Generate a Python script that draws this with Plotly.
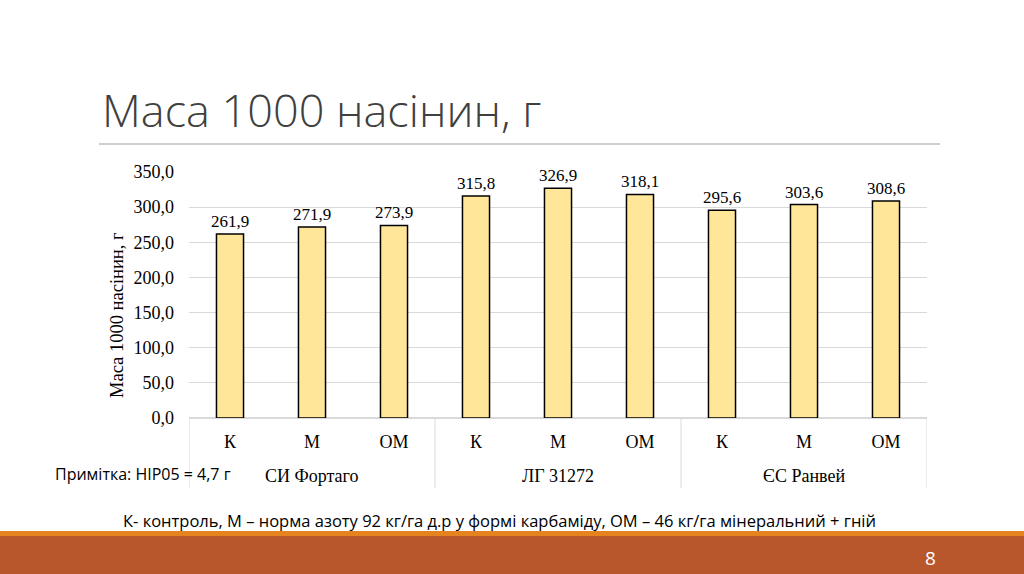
import plotly.graph_objects as go

# data
treatments = ["К", "М", "ОМ", "К", "М", "ОМ", "К", "М", "ОМ"]
varieties = ["СИ Фортаго", "ЛГ 31272", "ЄС Ранвей"]
seed_mass = [261.9, 271.9, 273.9, 315.8, 326.9, 318.1, 295.6, 303.6, 308.6]
y_ticks = [0, 50, 100, 150, 200, 250, 300, 350]

# plot area in pixels
PX0, PX1, PY0, PY1 = 189, 927, 172, 418


def px(x):
    return (x - PX0) / (PX1 - PX0)


def py(y):
    return (PY1 - y) / (PY1 - PY0)


serif = "Liberation Serif, Times New Roman, serif"
sans = "Open Sans, Noto Sans, sans-serif"

positions = list(range(len(seed_mass)))

fig = go.Figure()
fig.add_trace(go.Bar(
    x=positions, y=seed_mass,
    width=0.33,
    marker=dict(color="#FFE699", line=dict(color="#000000", width=1.5)),
    texttemplate="%{y:.1f}", textposition="outside", constraintext="none",
    textfont=dict(family=serif, size=17, color="#000000"),
    cliponaxis=False, showlegend=False, hoverinfo="skip",
))

# group labels under the category axis
annotations = []
for i, name in enumerate(varieties):
    annotations.append(dict(
        x=i * 3 + 1, xref="x", y=py(476), yref="paper", yanchor="middle",
        text=name, showarrow=False, font=dict(family=serif, size=18, color="#000000"),
    ))

# group dividers
shapes = []
for b in [-0.5, 2.5, 5.5, 8.5]:
    shapes.append(dict(type="line", xref="x", yref="paper", x0=b, x1=b,
                       y0=py(418), y1=py(488), line=dict(color="#D9D9D9", width=1)))

# slide decorations
shapes += [
    dict(type="line", xref="paper", yref="paper", x0=px(99), x1=px(940),
         y0=py(144), y1=py(144), line=dict(color="#BFBFBF", width=1.5)),
    dict(type="rect", xref="paper", yref="paper", x0=px(0), x1=px(1024),
         y0=py(531), y1=py(536), line=dict(width=0), fillcolor="#E5831F"),
    dict(type="rect", xref="paper", yref="paper", x0=px(0), x1=px(1024),
         y0=py(536), y1=py(574), line=dict(width=0), fillcolor="#B9572C"),
]

annotations += [
    dict(x=px(100), y=py(109), xref="paper", yref="paper", xanchor="left", yanchor="middle",
         text="Маса 1000 насінин, г", showarrow=False,
         font=dict(family=sans, size=45, color="#404040", weight=300)),
    # y axis title, placed a bit below the plot centre as in the source chart
    dict(x=px(117), y=py(315), xref="paper", yref="paper", xanchor="center", yanchor="middle",
         text="Маса 1000 насінин, г", showarrow=False, textangle=-90,
         font=dict(family=serif, size=18.5, color="#000000")),
    dict(x=px(53), y=py(474), xref="paper", yref="paper", xanchor="left", yanchor="middle",
         text="Примітка: НІР05 = 4,7 г", showarrow=False,
         font=dict(family=sans, size=16, color="#000000")),
    dict(x=px(499), y=py(520), xref="paper", yref="paper", xanchor="center", yanchor="middle",
         text="К- контроль, М – норма азоту 92 кг/га д.р у формі карбаміду, ОМ – 46 кг/га мінеральний + гній",
         showarrow=False, font=dict(family=sans, size=16.5, color="#000000")),
    dict(x=px(930), y=py(558), xref="paper", yref="paper", xanchor="center", yanchor="middle",
         text="8", showarrow=False, font=dict(family=sans, size=19, color="#FFFFFF")),
]

fig.update_layout(
    width=1024, height=574,
    margin=dict(l=PX0, r=1024 - PX1, t=PY0, b=574 - PY1),
    paper_bgcolor="#FFFFFF", plot_bgcolor="#FFFFFF",
    separators=", ",
    showlegend=False,
    xaxis=dict(
        range=[-0.5, 8.5], tickvals=positions, ticktext=treatments,
        showgrid=False, zeroline=False, showline=False, ticks="",
        ticklabelstandoff=11,
        tickfont=dict(family=serif, size=18, color="#000000"),
    ),
    yaxis=dict(
        range=[0, 350], tickvals=y_ticks, tickformat=".1f",
        showgrid=True, gridcolor="#D9D9D9", gridwidth=1,
        zeroline=True, zerolinecolor="#D9D9D9", showline=False, ticks="",
        ticklabelstandoff=14,
        tickfont=dict(family=serif, size=18, color="#000000"),
    ),
    shapes=shapes,
    annotations=annotations,
)

fig.write_html("out.html", config=dict(displayModeBar=False),
               post_script="document.body.style.margin='0';")
